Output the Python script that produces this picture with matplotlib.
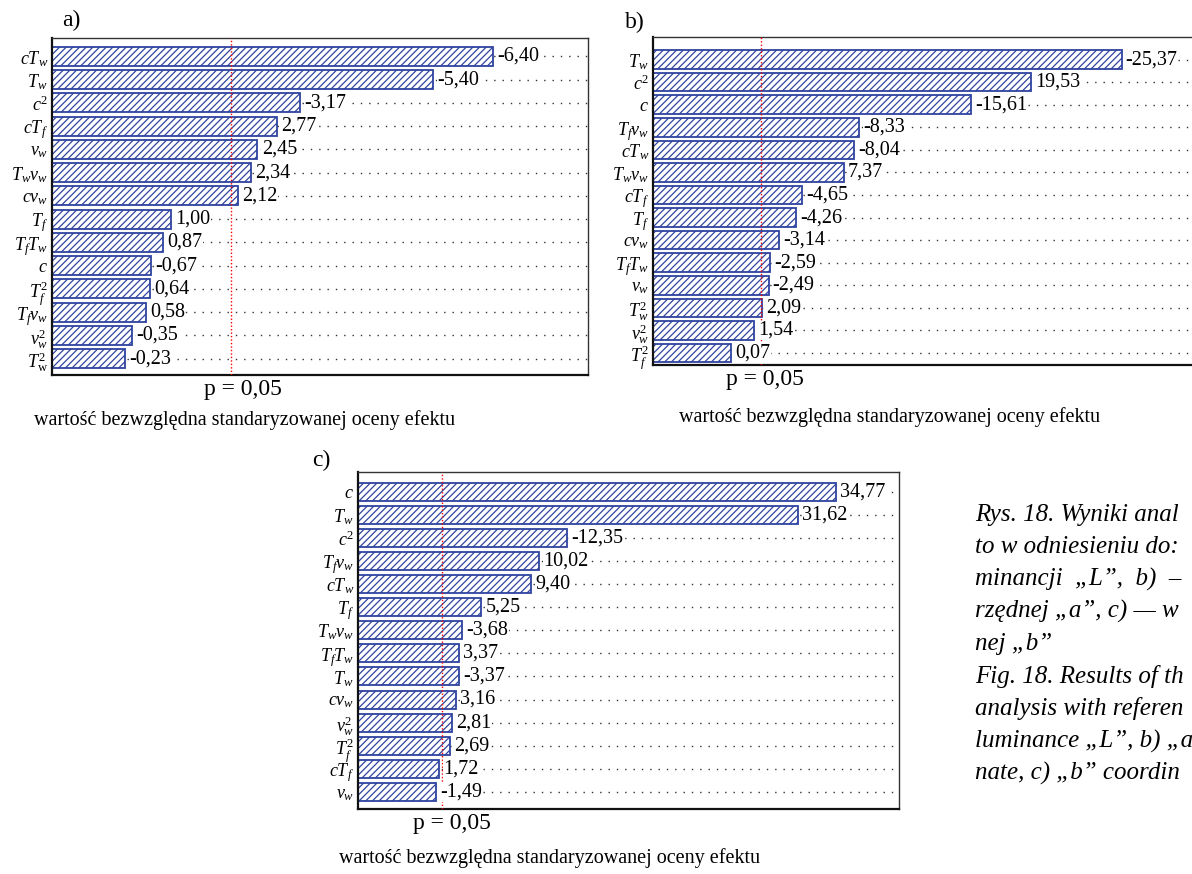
import matplotlib
matplotlib.use("Agg")
import matplotlib.pyplot as plt

plt.rcParams['font.family'] = ['Liberation Serif', 'DejaVu Serif']
plt.rcParams['mathtext.fontset'] = 'custom'
plt.rcParams['mathtext.rm'] = 'Liberation Serif'
plt.rcParams['mathtext.it'] = 'Liberation Serif:italic'
plt.rcParams['hatch.linewidth'] = 0.9

# data (standardized effects)
a_terms = [r'$cT_w$', r'$T_w$', r'$c^2$', r'$cT_f$', r'$v_w$', r'$T_wv_w$', r'$cv_w$',
           r'$T_f$', r'$T_fT_w$', r'$c$', r'$T_f^2$', r'$T_fv_w$', r'$v_w^2$', r'$T_\mathrm{w}^2$']
a_vals = [-6.40, -5.40, -3.17, 2.77, 2.45, 2.34, 2.12, 1.00, 0.87, -0.67, 0.64, 0.58, -0.35, -0.23]

b_terms = [r'$T_w$', r'$c^2$', r'$c$', r'$T_fv_w$', r'$cT_w$', r'$T_wv_w$', r'$cT_f$',
           r'$T_f$', r'$cv_w$', r'$T_fT_w$', r'$v_w$', r'$T_w^2$', r'$v_w^2$', r'$T_f^2$']
b_vals = [-25.37, 19.53, -15.61, -8.33, -8.04, 7.37, -4.65, -4.26, -3.14, -2.59, -2.49, 2.09, 1.54, 0.07]

c_terms = [r'$c$', r'$T_w$', r'$c^2$', r'$T_fv_w$', r'$cT_w$', r'$T_f$', r'$T_wv_w$',
           r'$T_fT_w$', r'$T_w$', r'$cv_w$', r'$v_w^2$', r'$T_f^2$', r'$cT_f$', r'$v_w$']
c_vals = [34.77, 31.62, -12.35, 10.02, 9.40, 5.25, -3.68, 3.37, -3.37, 3.16, 2.81, 2.69, 1.72, -1.49]

p_crit = 2.0

# caption as far as it is visible in the (cropped) picture
caption = ["Rys. 18. Wyniki anal",
           "to w odniesieniu do:",
           "minancji  \u201eL\u201d,  b)  \u2013",
           "rz\u0119dnej \u201ea\u201d, c) \u2014 w",
           "nej \u201eb\u201d",
           "Fig. 18. Results of th",
           "analysis with referen",
           "luminance \u201eL\u201d, b) \u201ea",
           "nate, c) \u201eb\u201d coordin"]

W, H = 1192, 874
blue = '#2f43a0'

fig = plt.figure(figsize=(11.92, 8.74), dpi=100)


def panel(rect, terms, vals, xmin, xmax, top, bottom, bh, p_dx):
    l, t, r, b = rect
    ax = fig.add_axes([l / W, 1 - b / H, (r - l) / W, (b - t) / H])
    n = len(vals)
    y = list(range(n))
    for yi in y:
        ax.axhline(yi, color='#333333', lw=1.0, ls=(0, (1, 5)), zorder=1)
    widths = [abs(v) - xmin for v in vals]
    ax.barh(y, widths, left=xmin, height=bh, color='white', edgecolor=blue,
            hatch='/////', lw=1.3, zorder=2)
    for yi, v in zip(y, vals):
        ax.annotate(f"{v:.2f}".replace('.', ','), xy=(abs(v), yi), xytext=(3, 0),
                    textcoords='offset points', va='center', ha='left', fontsize=14.5,
                    bbox=dict(facecolor='white', edgecolor='none', pad=0.2), zorder=4)
    ax.axvline(p_crit, color='red', lw=1.0, ls=(0, (1, 1.5)), zorder=3)
    ax.set_xlim(xmin, xmax)
    ax.set_ylim(n - 1 + bottom, -top)
    ax.set_xticks([])
    ax.set_yticks(y)
    ax.set_yticklabels(terms, fontsize=13)
    ax.tick_params(axis='y', length=0, pad=3)
    for s in ['left', 'bottom']:
        ax.spines[s].set_linewidth(1.6)
        ax.spines[s].set_color('#111111')
    for s in ['top', 'right']:
        ax.spines[s].set_linewidth(1.0)
        ax.spines[s].set_color('#333333')
    ax.annotate("p = 0,05", xy=(p_crit, 0), xycoords=('data', 'axes fraction'),
                xytext=(p_dx, -3), textcoords='offset points', ha='center', va='top',
                fontsize=17)
    return ax


panel((52, 38, 588, 375), a_terms, a_vals, -1, 8, 0.79, 0.70, 0.82, 8.5)
panel((653, 37, 1193, 365), b_terms, b_vals, -5, 30, 1.0, 0.53, 0.82, 3)
panel((358, 472, 899, 809), c_terms, c_vals, -5, 40, 0.85, 0.74, 0.78, 7)

xl = "warto\u015b\u0107 bezwzgl\u0119dna standaryzowanej oceny efektu"
fig.text(245 / W, 1 - 420 / H, xl, ha='center', va='center', fontsize=14.5)
fig.text(890 / W, 1 - 417 / H, xl, ha='center', va='center', fontsize=14.5)
fig.text(550 / W, 1 - 858 / H, xl, ha='center', va='center', fontsize=14.5)

fig.text(62 / W, 1 - 20 / H, "a)", ha='left', va='center', fontsize=17)
fig.text(625 / W, 1 - 22 / H, "b)", ha='left', va='center', fontsize=17)
fig.text(312 / W, 1 - 460 / H, "c)", ha='left', va='center', fontsize=17)

for i, line in enumerate(caption):
    fig.text(975 / W, 1 - (515 + i * 32.3) / H, line, ha='left', va='center',
             fontsize=18, style='italic')

fig.savefig('out.png', dpi=100)
